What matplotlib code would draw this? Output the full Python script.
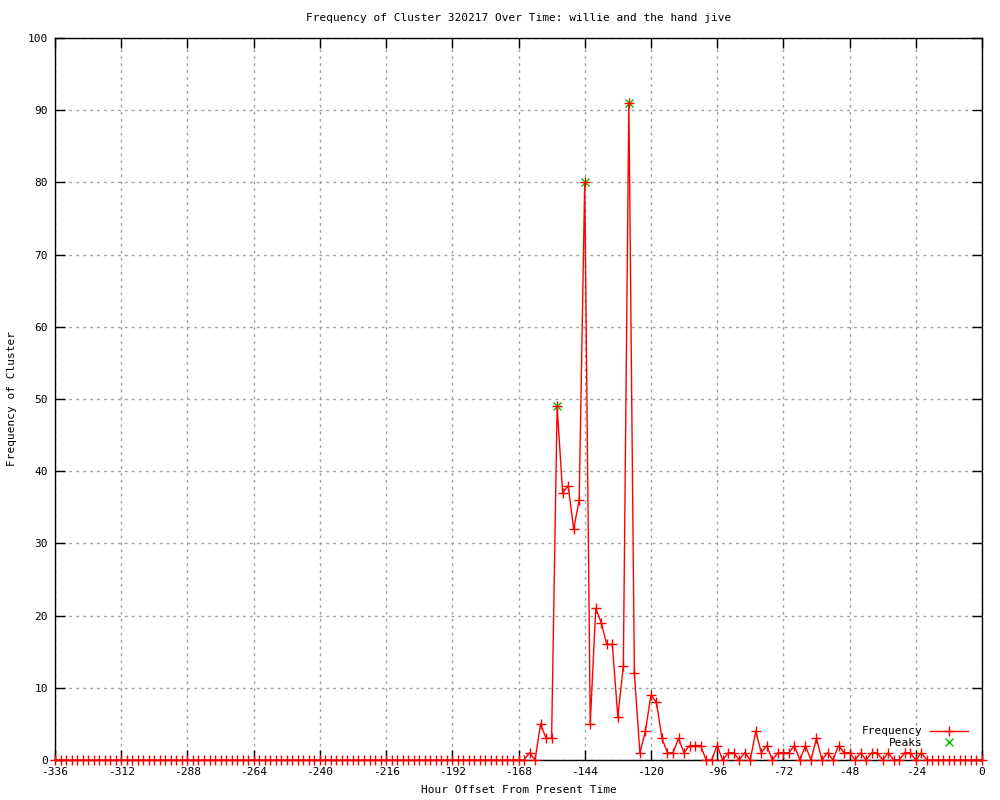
import numpy as np
import matplotlib
matplotlib.use("Agg")
import matplotlib.pyplot as plt

# hourly offsets, one sample every 2 hours
hours = list(range(-336, 1, 2))

# non-zero / recent part of the series (-168 .. 0)
recent_hours = list(range(-168, 1, 2))
recent_freq = [0, 0, 1, 0, 5, 3, 3, 49, 37, 38, 32, 36, 80, 5, 21, 19, 16, 16, 6, 13,
               91, 12, 1, 4, 9, 8, 3, 1, 1, 3, 1, 2, 2, 2, 0, 0, 2, 0, 1, 1,
               0, 1, 0, 4, 1, 2, 0, 1, 1, 1, 2, 0, 2, 0, 3, 0, 1, 0, 2, 1,
               1, 0, 1, 0, 1, 1, 0, 1, 0, 0, 1, 1, 0, 1, 0, 0, 0, 0, 0, 0,
               0, 0, 0, 0, 0]
freq = [0] * (len(hours) - len(recent_freq)) + recent_freq

peak_hours = [-154, -144, -128]
peak_freq = [49, 80, 91]

title = "Frequency of Cluster 320217 Over Time: willie and the hand jive"
xticks = list(range(-336, 1, 24))
yticks = list(range(0, 101, 10))

plt.rcParams['font.family'] = ['DejaVu Sans Mono']
plt.rcParams['axes.unicode_minus'] = False

fig = plt.figure(figsize=(10, 8), dpi=100)
ax = fig.add_axes([0.055, 0.05, 0.927, 0.9025])

ax.plot(peak_hours, peak_freq, ls='none', color='#00c000', marker='x', ms=5.5,
        mew=1, label='Peaks', zorder=3)
ax.plot(hours, freq, color='#ff0000', lw=1, marker='+', ms=7, mew=1,
        label='Frequency', clip_on=False, zorder=4)

ax.set_xlim(-336, 0)
ax.set_ylim(0, 100)
ax.set_xticks(xticks)
ax.set_yticks(yticks)
ax.tick_params(direction='in', length=7, width=1, labelsize=8,
               top=True, right=True, pad=5)
ax.grid(True, color='#a0a0a0', linestyle=(0, (2, 3)), lw=1)
for s in ax.spines.values():
    s.set_linewidth(1)

ax.set_title(title, fontsize=8, pad=12)
ax.set_xlabel('Hour Offset From Present Time', fontsize=8, labelpad=6)
ax.set_ylabel('Frequency of Cluster', fontsize=8, labelpad=8)

h, l = ax.get_legend_handles_labels()
leg = ax.legend(h[::-1], l[::-1], loc='lower right', bbox_to_anchor=(0.995, 0.005),
                frameon=False, markerfirst=False, fontsize=8, handlelength=3.5,
                labelspacing=0.1, handletextpad=0.6, borderpad=0.3)
for t in leg.get_texts():
    t.set_ha('right')

fig.savefig('out.png', dpi=100)
